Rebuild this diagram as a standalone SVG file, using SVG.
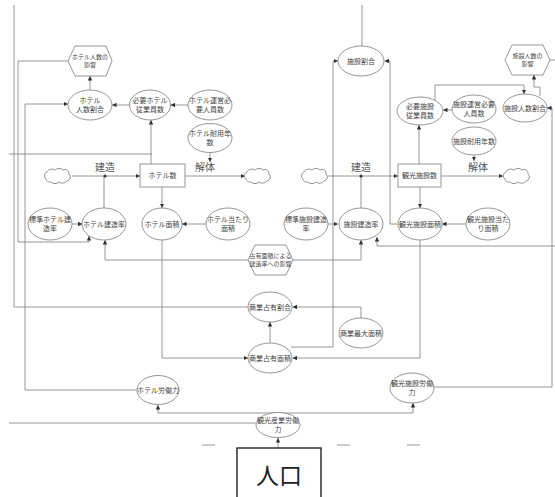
<svg xmlns="http://www.w3.org/2000/svg" width="555" height="497" viewBox="0 0 555 497">
<style>
.n{fill:#fff;stroke:#8a8a8a;stroke-width:0.9}
.t{font-family:"Noto Sans CJK JP","Noto Sans",sans-serif;font-size:7px;fill:#444;text-anchor:middle}
.s{font-size:6px}
.lb{font-family:"Noto Sans CJK JP","Noto Sans",sans-serif;font-size:10px;fill:#555;text-anchor:middle}
.c{fill:none;stroke:#8a8a8a;stroke-width:0.9}
.a{marker-end:url(#ah)}
</style>
<defs>
<marker id="ah" viewBox="0 0 6 6" refX="6" refY="3" markerWidth="4.5" markerHeight="4.5" markerUnits="userSpaceOnUse" orient="auto">
<path d="M0,0 L6,3 L0,6 z" fill="#333"/>
</marker>
<path id="cloud" d="M-12,3 a4,4 0 0 1 1,-7 a5,4 0 0 1 8,-2 a5,4 0 0 1 8,0 a4,4 0 0 1 6,4 a4,4 0 0 1 -2,7 a5,4 0 0 1 -8,1 a5,4 0 0 1 -8,0 a4,3 0 0 1 -5,-3 z" fill="#fff" stroke="#8a8a8a" stroke-width="0.9"/>
</defs>
<rect width="555" height="497" fill="#fff"/>
<g id="connectors">
<path class="c a" d="M90,90 V76"/>
<path class="c a" d="M129.5,105 H112"/>
<path class="c a" d="M188,105 H170.5"/>
<path class="c a" d="M151,164 V120"/>
<path class="c a" d="M68,61 H18 V242 H89 V236"/>
<path class="c a" d="M137,390 H25 V104 H68"/>
<path class="c" d="M248,307 H14 V5"/>
<path class="c" d="M9,154 H152"/>
<path class="c a" d="M72,176 H140"/>
<path class="c a" d="M185,176 H245"/>
<path class="c a" d="M210,152 V162"/>
<path class="c" d="M104,208 V176"/>
<path class="c a" d="M72,224 H82.5"/>
<path class="c a" d="M162,187 V208"/>
<path class="c a" d="M206,224 H182"/>
<path class="c a" d="M248,260 H105 V240"/>
<path class="c a" d="M162,240 V358 H248"/>
<path class="c a" d="M292,260 H361 V240"/>
<path class="c a" d="M361,318 V307 H292.5"/>
<path class="c a" d="M270,343 V322"/>
<path class="c a" d="M291,347 H333 V61 H338"/>
<path class="c a" d="M398,224 H390 V61 H384.5"/>
<path class="c a" d="M420,240 V358 H292.5"/>
<path class="c" d="M362,5 V46"/>
<path class="c a" d="M419,164 V125"/>
<path class="c a" d="M452,110 H443"/>
<path class="c a" d="M435,100 V85 H524 V94"/>
<path class="c a" d="M540,96 V87 H534 V75"/>
<path class="c a" d="M550,60 H558 V246 H377 V237"/>
<path class="c a" d="M433,387 H552 V108 H547"/>
<path class="c a" d="M328,176 H398"/>
<path class="c a" d="M441,176 H503"/>
<path class="c a" d="M474,155 V161"/>
<path class="c" d="M361,208 V176"/>
<path class="c a" d="M328,224 H338"/>
<path class="c a" d="M420,187 V208"/>
<path class="c a" d="M466,224 H442"/>
<path class="c a" d="M278,413 H158 V405"/>
<path class="c a" d="M278,413 H413 V403"/>
<path class="c a" d="M278,448 V438"/>
<path class="c" d="M9,423 H256"/>
<path class="c" d="M202,445 H215 M337,445 H350 M407,445 H420"/>
<circle cx="105" cy="176" r="1.6" fill="#333"/>
<circle cx="361" cy="176" r="1.6" fill="#333"/>
</g>
<g id="hotelImpact"><polygon class="n" points="68,61 75,46 106,46 112,61 106,76 75,76"/><text class="t s" x="90" y="59">ホテル人数の<tspan x="90" dy="8">影響</tspan></text></g>
<g id="hotelRatio"><ellipse class="n" cx="90" cy="105" rx="22" ry="15"/><text class="t" x="90" y="103">ホテル<tspan x="90" dy="8.5">人数割合</tspan></text></g>
<g id="reqHotelStaff"><ellipse class="n" cx="150" cy="105" rx="20.5" ry="15"/><text class="t" x="150" y="103">必要ホテル<tspan x="150" dy="8.5">従業員数</tspan></text></g>
<g id="hotelOpStaff"><ellipse class="n" cx="210" cy="105" rx="22" ry="15"/><text class="t" x="210" y="103">ホテル運営必<tspan x="210" dy="8.5">要人員数</tspan></text></g>
<g id="hotelLife"><ellipse class="n" cx="210" cy="138" rx="22" ry="14.5"/><text class="t" x="210" y="136">ホテル耐用年<tspan x="210" dy="8.5">数</tspan></text></g>
<g id="cloud1"><use href="#cloud" x="58" y="176"/></g>
<g id="cloud2"><use href="#cloud" x="258" y="176"/></g>
<g id="cloud3"><use href="#cloud" x="315" y="176"/></g>
<g id="cloud4"><use href="#cloud" x="517" y="176"/></g>
<g id="labels"><text class="lb" x="105" y="171">建造</text><text class="lb" x="205" y="171">解体</text><text class="lb" x="361" y="171">建造</text><text class="lb" x="478" y="171">解体</text></g>
<g id="hotelCount"><rect class="n" x="140" y="164" width="45" height="23"/><text class="t" x="162.5" y="178">ホテル数</text></g>
<g id="stdHotelRate"><ellipse class="n" cx="50" cy="224" rx="22" ry="16"/><text class="t" x="50" y="222">標準ホテル建<tspan x="50" dy="8.5">造率</tspan></text></g>
<g id="hotelRate"><ellipse class="n" cx="104" cy="224" rx="22" ry="16"/><text class="t" x="104" y="226.5">ホテル建造率</text></g>
<g id="hotelArea"><ellipse class="n" cx="162" cy="224" rx="20" ry="16"/><text class="t" x="162" y="226.5">ホテル面積</text></g>
<g id="hotelUnitArea"><ellipse class="n" cx="228" cy="224" rx="22" ry="16"/><text class="t" x="228" y="222">ホテル当たり<tspan x="228" dy="8.5">面積</tspan></text></g>
<g id="occImpact"><polygon class="n" points="248,260 255,245 286,245 293,260 286,275 255,275"/><text class="t s" x="270.5" y="258">占有面積による<tspan x="270.5" dy="8">建造率への影響</tspan></text></g>
<g id="commRatio"><ellipse class="n" cx="270" cy="307" rx="22" ry="15"/><text class="t" x="270" y="309.5">商業占有割合</text></g>
<g id="commMax"><ellipse class="n" cx="361" cy="333" rx="22" ry="15"/><text class="t" x="361" y="335.5">商業最大面積</text></g>
<g id="commArea"><ellipse class="n" cx="270" cy="358" rx="22" ry="15"/><text class="t" x="270" y="360.5">商業占有面積</text></g>
<g id="facRatioTop"><ellipse class="n" cx="361" cy="61" rx="23" ry="15"/><text class="t" x="361" y="63.5">施設割合</text></g>
<g id="facImpact"><polygon class="n" points="505,60 512,45 543,45 550,60 543,75 512,75"/><text class="t s" x="527.5" y="58">施設人数の<tspan x="527.5" dy="8">影響</tspan></text></g>
<g id="reqFacStaff"><ellipse class="n" cx="420" cy="111" rx="23" ry="14"/><text class="t" x="420" y="109">必要施設<tspan x="420" dy="8.5">従業員数</tspan></text></g>
<g id="facOpStaff"><ellipse class="n" cx="474" cy="109" rx="22" ry="14"/><text class="t" x="474" y="107">施設運営必要<tspan x="474" dy="8.5">人員数</tspan></text></g>
<g id="facPeopleRatio"><ellipse class="n" cx="525" cy="108" rx="22" ry="14"/><text class="t" x="525" y="110.5">施設人数割合</text></g>
<g id="facLife"><ellipse class="n" cx="474" cy="141" rx="22" ry="14"/><text class="t" x="474" y="143.5">施設耐用年数</text></g>
<g id="facCount"><rect class="n" x="398" y="164" width="43" height="23"/><text class="t" x="419.5" y="178">観光施設数</text></g>
<g id="stdFacRate"><ellipse class="n" cx="306" cy="224" rx="22" ry="16"/><text class="t" x="306" y="222">標準施設建造<tspan x="306" dy="8.5">率</tspan></text></g>
<g id="facRate"><ellipse class="n" cx="361" cy="224" rx="22" ry="16"/><text class="t" x="361" y="226.5">施設建造率</text></g>
<g id="facArea"><ellipse class="n" cx="420" cy="224" rx="22" ry="16"/><text class="t" x="420" y="226.5">観光施設面積</text></g>
<g id="facUnitArea"><ellipse class="n" cx="488" cy="224" rx="22" ry="16"/><text class="t" x="488" y="222">観光施設当た<tspan x="488" dy="8.5">り面積</tspan></text></g>
<g id="hotelLabor"><ellipse class="n" cx="158" cy="390" rx="21" ry="14.5"/><text class="t" x="158" y="392.5">ホテル労働力</text></g>
<g id="facLabor"><ellipse class="n" cx="412" cy="388" rx="22" ry="15"/><text class="t" x="412" y="386">観光施設労働<tspan x="412" dy="8.5">力</tspan></text></g>
<g id="tourLabor"><ellipse class="n" cx="278" cy="425" rx="22" ry="12.5"/><text class="t" x="278" y="423">観光産業労働<tspan x="278" dy="8.5">力</tspan></text></g>
<g id="population"><rect x="237" y="448" width="84" height="60" fill="#fff" stroke="#222" stroke-width="1.4"/><text x="279" y="484" font-family="Noto Sans CJK JP, Noto Sans, sans-serif" font-size="23" fill="#222" text-anchor="middle">人口</text></g>
</svg>
